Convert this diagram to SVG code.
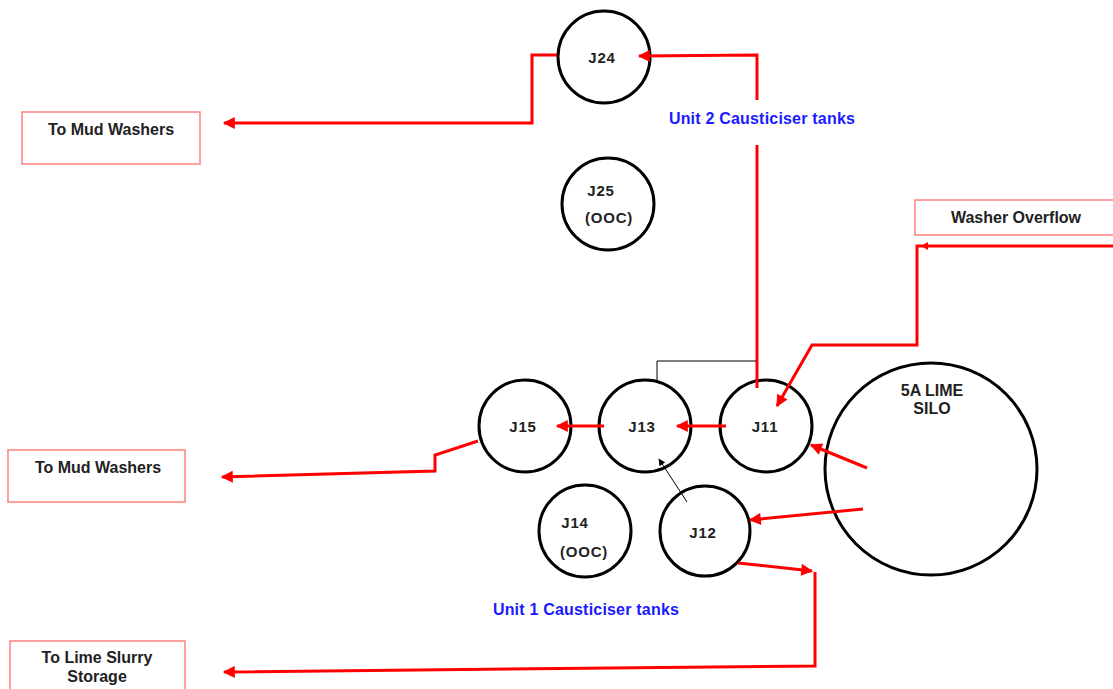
<svg xmlns="http://www.w3.org/2000/svg" width="1113" height="689" viewBox="0 0 1113 689">
<style>
.tank{fill:none;stroke:#000;stroke-width:3}
.box{fill:#fff;stroke:#ff8080;stroke-width:1.5}
.lbl{font-family:"Liberation Sans",Arial,sans-serif;font-weight:bold;font-size:16px;fill:#222;text-anchor:middle}
.tl{font-family:"Liberation Sans",Arial,sans-serif;font-weight:bold;font-size:15px;letter-spacing:0.8px;fill:#222;text-anchor:middle}
.unit{font-family:"Liberation Sans",Arial,sans-serif;font-weight:bold;font-size:16px;letter-spacing:0.2px;fill:#1a1aff;text-anchor:middle}
.pipe{fill:none;stroke:#ff0000;stroke-width:3}
.thin{fill:none;stroke:#000;stroke-width:1}
</style>
<defs>
<marker id="ah" viewBox="0 0 10 10" refX="9" refY="5" markerWidth="4.5" markerHeight="4" markerUnits="strokeWidth" orient="auto">
<path d="M0,0 L10,5 L0,10 Z" fill="#ff0000"/>
</marker>
<marker id="ahk" viewBox="0 0 10 10" refX="9" refY="5" markerWidth="9" markerHeight="7" markerUnits="strokeWidth" orient="auto">
<path d="M0,0 L10,5 L0,10 Z" fill="#000"/>
</marker>
</defs>

<g id="box-mud1"><rect class="box" x="22" y="112" width="178" height="52"/><text class="lbl" x="111" y="135">To Mud Washers</text></g>
<g id="box-mud2"><rect class="box" x="8" y="450" width="177" height="52"/><text class="lbl" x="98" y="473">To Mud Washers</text></g>
<g id="box-slurry"><rect class="box" x="10" y="641" width="175" height="60"/><text class="lbl" x="97" y="663">To Lime Slurry</text><text class="lbl" x="97" y="682">Storage</text></g>
<g id="box-overflow"><rect class="box" x="915" y="200" width="210" height="35"/><text class="lbl" x="1016" y="223">Washer Overflow</text></g>

<g id="J24"><circle class="tank" cx="604" cy="57" r="46"/><text class="tl" x="602" y="63">J24</text></g>
<g id="J25"><circle class="tank" cx="608" cy="204" r="46"/><text class="tl" x="601" y="196">J25</text><text class="tl" x="609" y="223">(OOC)</text></g>
<g id="J15"><circle class="tank" cx="525" cy="426" r="46"/><text class="tl" x="523" y="432">J15</text></g>
<g id="J13"><circle class="tank" cx="645" cy="426" r="46"/><text class="tl" x="642" y="432">J13</text></g>
<g id="J11"><circle class="tank" cx="766" cy="426" r="46"/><text class="tl" x="765" y="432">J11</text></g>
<g id="J14"><circle class="tank" cx="585" cy="531" r="46"/><text class="tl" x="575" y="528">J14</text><text class="tl" x="584" y="557">(OOC)</text></g>
<g id="J12"><circle class="tank" cx="705" cy="531" r="45"/><text class="tl" x="703" y="538">J12</text></g>
<g id="silo"><circle class="tank" cx="931" cy="469" r="106"/><text class="lbl" x="932" y="396">5A LIME</text><text class="lbl" x="932" y="414">SILO</text></g>

<text class="unit" x="762" y="124">Unit 2 Causticiser tanks</text>
<text class="unit" x="586" y="615">Unit 1 Causticiser tanks</text>

<g id="connectors">
<path class="pipe" d="M557,55 L532,55 L532,123 L224,123" marker-end="url(#ah)"/>
<path class="pipe" d="M757,388 L757,145"/>
<path class="pipe" d="M757,100 L757,55 L639,56" marker-end="url(#ah)"/>
<path class="pipe" d="M1113,246 L917,246 L917,345 L812,345 L777,406" marker-end="url(#ah)"/>
<path d="M928,242 L921,246 L928,250 Z" fill="#ff0000"/>
<path class="pipe" d="M726,426 L677,426" marker-end="url(#ah)"/>
<path class="pipe" d="M604,426 L557,426" marker-end="url(#ah)"/>
<path class="pipe" d="M478,441 L435,455 L435,471 L222,477" marker-end="url(#ah)"/>
<path class="pipe" d="M867,468 L811,445" marker-end="url(#ah)"/>
<path class="pipe" d="M863,509 L750,520" marker-end="url(#ah)"/>
<path class="pipe" d="M738,563 L812,571" marker-end="url(#ah)"/>
<path class="pipe" d="M815,572 L815,666 L224,672" marker-end="url(#ah)"/>
<path class="thin" d="M657,380 L657,361 L756,361"/>
<path class="thin" d="M687,502 L659,459" marker-end="url(#ahk)"/>
</g>
</svg>
